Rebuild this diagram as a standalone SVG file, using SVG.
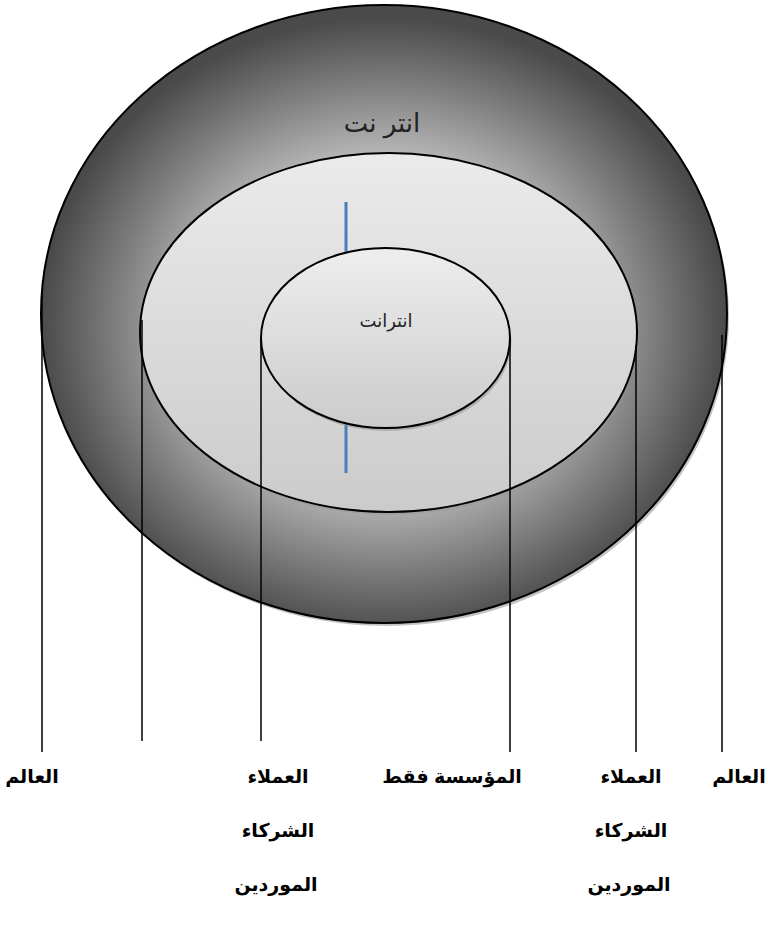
<svg xmlns="http://www.w3.org/2000/svg" width="768" height="933" viewBox="0 0 768 933">
<defs>
<radialGradient id="gOuter" cx="50%" cy="52%" r="50%">
<stop offset="0" stop-color="#f2f2f2"/>
<stop offset="0.55" stop-color="#b8b8b8"/>
<stop offset="0.8" stop-color="#7a7a7a"/>
<stop offset="1" stop-color="#4a4a4a"/>
</radialGradient>
<linearGradient id="gMid" x1="0" y1="0" x2="0" y2="1">
<stop offset="0" stop-color="#ebebeb"/>
<stop offset="1" stop-color="#cbcbcb"/>
</linearGradient>
<linearGradient id="gIn" x1="0" y1="0" x2="0" y2="1">
<stop offset="0" stop-color="#eeeeee"/>
<stop offset="1" stop-color="#cbcbcb"/>
</linearGradient>
</defs>
<style>
.ring{stroke:#000;stroke-width:2}
.shadow{fill:#9a9a9a;opacity:0.6}
.conn line{stroke:#000;stroke-width:1.5}
.lbl{font-family:"Liberation Sans","DejaVu Sans",sans-serif;font-size:19px;font-weight:bold;fill:#000;text-anchor:middle}
.t{font-family:"Liberation Sans","DejaVu Sans",sans-serif;fill:#222;text-anchor:middle}
</style>
<rect width="768" height="933" fill="#fff"/>
<g id="outer">
<ellipse class="shadow" cx="386" cy="317" rx="343" ry="309"/>
<ellipse class="ring" cx="384" cy="314" rx="343" ry="309" fill="url(#gOuter)"/>
<text class="t" x="382" y="132" font-size="26">انتر نت</text>
</g>
<g id="middle">
<ellipse class="shadow" cx="390" cy="335" rx="248" ry="180"/>
<ellipse class="ring" cx="388.5" cy="332.5" rx="248.5" ry="179.5" fill="url(#gMid)"/>
</g>
<line x1="346" y1="202" x2="346" y2="473" stroke="#4a7ebb" stroke-width="3"/>
<g id="inner">
<ellipse class="shadow" cx="387" cy="341" rx="124.5" ry="90"/>
<ellipse class="ring" cx="385.5" cy="338" rx="124.5" ry="90" fill="url(#gIn)"/>
<text class="t" x="386" y="327" font-size="18">انترانت</text>
</g>
<g class="conn" id="connectors">
<line x1="42" y1="291" x2="42" y2="752"/>
<line x1="142" y1="320" x2="142" y2="741"/>
<line x1="261" y1="338" x2="261" y2="741"/>
<line x1="510" y1="338" x2="510" y2="752"/>
<line x1="636" y1="345" x2="636" y2="752"/>
<line x1="722" y1="335" x2="722" y2="752"/>
</g>
<g id="labels">
<text class="lbl" x="32" y="783">العالم</text>
<text class="lbl" x="278" y="783">العملاء</text>
<text class="lbl" x="278" y="837">الشركاء</text>
<text class="lbl" x="276" y="891">الموردين</text>
<text class="lbl" x="452" y="783">المؤسسة فقط</text>
<text class="lbl" x="631" y="783">العملاء</text>
<text class="lbl" x="631" y="837">الشركاء</text>
<text class="lbl" x="629" y="891">الموردين</text>
<text class="lbl" x="739" y="783">العالم</text>
</g>
</svg>
